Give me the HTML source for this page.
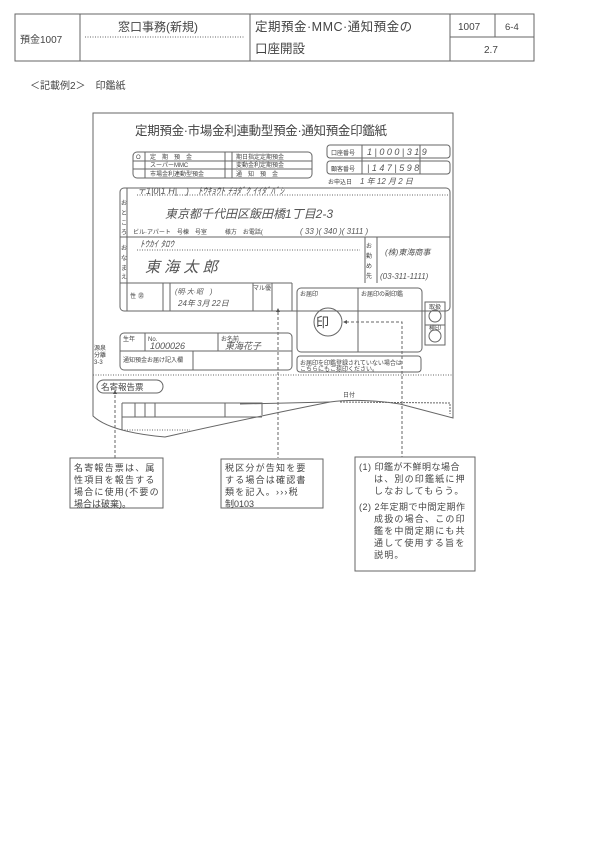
<!DOCTYPE html>
<html><head><meta charset="utf-8"><style>
html,body{margin:0;padding:0;background:#fff;}
svg{display:block;}
text{font-family:"Liberation Sans","Noto Sans CJK JP",sans-serif;fill:#444;}
.h{font-family:"Liberation Sans","Noto Sans CJK JP",sans-serif;fill:#555;font-style:italic;}
</style></head><body>
<svg width="600" height="848" viewBox="0 0 600 848" xmlns="http://www.w3.org/2000/svg">
<g stroke="#666" fill="none" stroke-width="1">
<rect x="15" y="14" width="519" height="47"/>
<line x1="80" y1="14" x2="80" y2="61"/>
<line x1="250" y1="14" x2="250" y2="61"/>
<line x1="450" y1="14" x2="450" y2="61"/>
<line x1="495" y1="14" x2="495" y2="37"/>
<line x1="450" y1="37" x2="534" y2="37"/>
<line x1="85" y1="37" x2="245" y2="37" stroke-dasharray="1,1.5"/>
</g>
<text x="20" y="43" font-size="10">預金1007</text>
<text x="118" y="31" font-size="12">窓口事務(新規)</text>
<text x="255" y="31" font-size="12.5" letter-spacing="0.5">定期預金·MMC·通知預金の</text>
<text x="255" y="53" font-size="12.5">口座開設</text>
<text x="458" y="30" font-size="10">1007</text>
<text x="505" y="30" font-size="9.5">6-4</text>
<text x="484" y="53" font-size="10">2.7</text>
<text x="30" y="89" font-size="10" fill="#555">＜記載例2＞　印鑑紙</text>

<g stroke="#666" fill="none" stroke-width="1">
<path d="M93 113 L453 113 L453 418 Q430 412 400 404 Q360 398 330 402 Q240 420 165 437 Q110 432 93 416 Z"/>
<rect x="133" y="152" width="179" height="26" rx="4"/>
<line x1="133" y1="161" x2="312" y2="161"/><line x1="133" y1="169" x2="312" y2="169"/>
<line x1="145" y1="152" x2="145" y2="178"/><line x1="225" y1="152" x2="225" y2="178"/><line x1="232" y1="152" x2="232" y2="178"/>
<rect x="327" y="145" width="123" height="13" rx="3"/>
<rect x="327" y="161" width="123" height="13" rx="3"/>
<line x1="362" y1="145" x2="362" y2="174"/>
<line x1="420" y1="145" x2="420" y2="174"/>
<rect x="120" y="188" width="330" height="123" rx="4"/>
<line x1="127" y1="188" x2="127" y2="311"/>
<line x1="120" y1="237" x2="450" y2="237"/>
<line x1="120" y1="283" x2="292" y2="283"/>
<line x1="365" y1="237" x2="365" y2="283"/>
<line x1="377" y1="237" x2="377" y2="283"/>
<line x1="137" y1="195" x2="450" y2="195" stroke-dasharray="1,1.5"/>
<line x1="137" y1="250" x2="360" y2="250" stroke-dasharray="1,1.5"/>
<line x1="253" y1="283" x2="253" y2="311"/>
<line x1="272" y1="283" x2="272" y2="311"/>
<line x1="292" y1="283" x2="292" y2="311"/>
<line x1="163" y1="283" x2="163" y2="311"/>
<line x1="170" y1="283" x2="170" y2="311"/>
<rect x="297" y="288" width="125" height="64" rx="4"/>
<line x1="358" y1="288" x2="358" y2="352"/>
<circle cx="328" cy="322" r="14"/>
<rect x="425" y="302" width="20" height="43"/>
<line x1="425" y1="325" x2="445" y2="325"/>
<circle cx="435" cy="316" r="6"/><circle cx="435" cy="336" r="6"/>
<rect x="297" y="356" width="124" height="16" rx="3"/>
<rect x="120" y="333" width="172" height="37" rx="4"/>
<line x1="120" y1="351" x2="292" y2="351"/>
<line x1="145" y1="333" x2="145" y2="351"/>
<line x1="218" y1="333" x2="218" y2="351"/>
<line x1="193" y1="351" x2="193" y2="370"/>
<line x1="93" y1="375" x2="453" y2="375" stroke-dasharray="1,1.5"/>
<rect x="97" y="380" width="66" height="13" rx="6.5"/>
<path d="M122 403 L262 403 L262 415 M122 417 L262 417 M122 403 L122 430"/>
<line x1="135" y1="403" x2="135" y2="417"/><line x1="145" y1="403" x2="145" y2="417"/><line x1="155" y1="403" x2="155" y2="417"/>
<line x1="225" y1="403" x2="225" y2="417"/>
<path d="M240 404 L330 402"/>
<path d="M122 430 L190 430" stroke-dasharray="1,1.5"/>
<path d="M340 402 L450 403 L450 414" stroke-dasharray="2,1"/>
<g stroke-dasharray="3,2">
<line x1="115" y1="395" x2="115" y2="458"/>
<line x1="278" y1="312" x2="278" y2="458"/>
<path d="M346 322 L402 322 L402 457"/>
</g>
<rect x="70" y="458" width="93" height="50"/>
<rect x="221" y="459" width="102" height="49"/>
<rect x="355" y="457" width="120" height="114"/>
</g>
<path d="M115 390 l-2 4 h4z M278 308 l-2 4 h4z M343 322 l4 -2 v4z" fill="#555"/>

<text x="135" y="135" font-size="12.5" letter-spacing="-0.3">定期預金·市場金利連動型預金·通知預金印鑑紙</text>
<g font-size="6" fill="#666">
<text x="136" y="159">O</text><text x="150" y="159">定　期　預　金</text><text x="236" y="159">期日指定定期預金</text>
<text x="150" y="167">スーパーMMC</text><text x="236" y="167">変動金利定期預金</text>
<text x="150" y="176">市場金利連動型預金</text><text x="236" y="176">通　知　預　金</text>
<text x="331" y="155">口座番号</text><text x="331" y="171">顧客番号</text>
<text x="328" y="184">お申込日</text>
<text x="121" y="205">お</text><text x="121" y="215">と</text><text x="121" y="225">こ</text><text x="121" y="234">ろ</text>
<text x="121" y="250">お</text><text x="121" y="260">な</text><text x="121" y="270">ま</text><text x="121" y="279">え</text>
<text x="133" y="234">ビル·アパート　号棟　号室　　　様方　お電話(</text>
<text x="366" y="248">お</text><text x="366" y="258">勤</text><text x="366" y="268">め</text><text x="366" y="278">先</text>
<text x="300" y="296">お届印</text><text x="361" y="296">お届印の副印鑑</text>
<text x="123" y="341">生年</text><text x="148" y="341">No.</text><text x="221" y="341">お名前</text>
<text x="123" y="362">通知預金お届け記入欄</text>
<text x="94" y="350">源泉</text><text x="94" y="357">分離</text><text x="94" y="364">3-3</text>
<text x="300" y="365">お届印を印鑑登録されていない場合は</text>
<text x="300" y="371">こちらにもご捺印ください。</text>
<text x="253" y="290">マル優</text>
<text x="130" y="298">性</text><text x="138" y="298">㊚</text>
<text x="343" y="397">日付</text>
<text x="429" y="309">取扱</text><text x="429" y="330">検印</text>
</g>
<text x="101" y="390" font-size="8.5" fill="#555">名寄報告票</text>
<g class="h" font-size="9">
<text x="137" y="194" class="h">〒1|0|1 H|　)　ﾄｳｷｮｳﾄ ﾁﾖﾀﾞｸ ｲｲﾀﾞﾊﾞｼ</text>
<text x="367" y="155" class="h">1 | 0 0 0 | 3 1 9</text>
<text x="367" y="171" class="h">| 1 4 7 | 5 9 8</text>
<text x="360" y="184" class="h" font-size="8">1 年 12 月 2 日</text>
<text x="165" y="218" class="h" font-size="12">東京都千代田区飯田橋1丁目2-3</text>
<text x="140" y="247" class="h">ﾄｳｶｲ ﾀﾛｳ</text>
<text x="145" y="272" class="h" font-size="15">東 海 太 郎</text>
<text x="385" y="255" class="h" font-size="8">(株)東海商事</text>
<text x="380" y="279" class="h" font-size="8">(03-311-1111)</text>
<text x="300" y="234" class="h" font-size="8">( 33 )( 340 )( 3111 )</text>
<text x="175" y="294" class="h" font-size="7">(明·大·昭　)</text>
<text x="178" y="306" class="h" font-size="8">24年 3月 22日</text>
<text x="150" y="349" class="h">1000026</text>
<text x="225" y="349" class="h">東海花子</text>
</g>
<text x="316" y="327" font-size="13" fill="#444">印</text>
<g font-size="9" fill="#555" letter-spacing="1.2">
<text x="74" y="471">名寄報告票は、属</text>
<text x="74" y="483">性項目を報告する</text>
<text x="74" y="495">場合に使用(不要の</text>
<text x="74" y="507" letter-spacing="0">場合は破棄)。</text>
<text x="225" y="471">税区分が告知を要</text>
<text x="225" y="483">する場合は確認書</text>
<text x="225" y="495">類を記入。›››税</text>
<text x="225" y="507" letter-spacing="0">制0103</text>
<text x="359" y="470" letter-spacing="0.5">(1) 印鑑が不鮮明な場合</text>
<text x="374" y="482">は、別の印鑑紙に押</text>
<text x="374" y="494">しなおしてもらう。</text>
<text x="359" y="510" letter-spacing="0.5">(2) 2年定期で中間定期作</text>
<text x="374" y="522">成扱の場合、この印</text>
<text x="374" y="534">鑑を中間定期にも共</text>
<text x="374" y="546">通して使用する旨を</text>
<text x="374" y="558">説明。</text>
</g>
</svg>
</body></html>
